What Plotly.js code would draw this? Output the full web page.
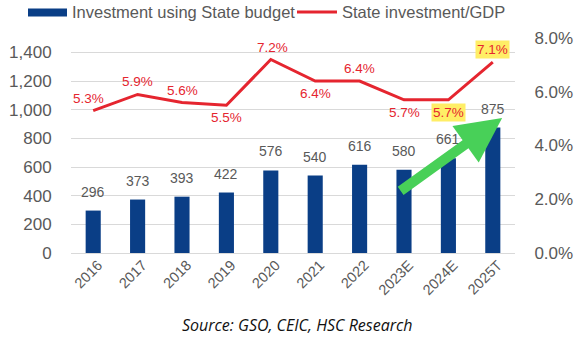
<!DOCTYPE html>
<html>
<head>
<meta charset="utf-8">
<script src="https://cdn.plot.ly/plotly-3.0.1.min.js"></script>
<style>html,body{margin:0;padding:0;background:#fff}#chart{width:588px;height:339px}</style>
</head>
<body>
<div id="chart"></div>
<script>
const categories = ['2016','2017','2018','2019','2020','2021','2022','2023E','2024E','2025T'];
const investment = [296, 373, 393, 422, 576, 540, 616, 580, 661, 875];
const gdpShare = [5.3, 5.9, 5.6, 5.5, 7.2, 6.4, 6.4, 5.7, 5.7, 7.1];
const leftTicks = [0, 200, 400, 600, 800, 1000, 1200, 1400];
const rightTicks = [0, 2, 4, 6, 8];

const navy = '#0A3E86';
const red = '#E5252F';
const grey = '#595959';

// label placement (style only)
const lineLabelBelow = [false,false,false,true,false,true,false,true,true,false];
const lineLabelHighlight = [false,false,false,false,false,false,false,false,true,true];
const lineLabelXShift = [-5,0,0,0,2,0,0,0,0,0];

const traces = [
  {type:'bar', x:categories, y:investment, marker:{color:navy}, width:0.34, showlegend:false, hoverinfo:'skip'},
  {type:'scatter', mode:'lines', x:categories, y:gdpShare, yaxis:'y2', line:{color:red, width:3}, showlegend:false, hoverinfo:'skip'}
];

const annotations = [];
categories.forEach((c,i)=>{
  annotations.push({x:i, y:investment[i], xref:'x', yref:'y', text:String(investment[i]), showarrow:false,
    yanchor:'bottom', yshift:9, font:{family:'Liberation Sans, Arial', size:14, color:grey}});
  const below = lineLabelBelow[i];
  annotations.push({x:i, y:gdpShare[i], xref:'x', yref:'y2', text:gdpShare[i].toFixed(1)+'%', showarrow:false,
    yanchor: below ? 'top':'bottom', yshift: below ? -3 : 3, xshift:lineLabelXShift[i],
    bgcolor: lineLabelHighlight[i] ? '#FFEE66' : 'rgba(0,0,0,0)', borderpad:1,
    font:{family:'Liberation Sans, Arial', size:13.5, color:red}});
});
// green trend arrow
annotations.push({xref:'paper', yref:'paper', axref:'pixel', ayref:'pixel', x:0.971, y:0.628, ax:-103, ay:74,
  showarrow:true, arrowhead:2, arrowsize:0.9, arrowwidth:10, arrowcolor:'#48D058', text:''});
// legend
annotations.push({xref:'paper', yref:'paper', x:(70-71)/444, y:(253-12)/215, xanchor:'left', yanchor:'middle', showarrow:false,
  text:'Investment using State budget', font:{family:'Liberation Sans, Arial', size:16.5, color:grey}});
annotations.push({xref:'paper', yref:'paper', x:(340-71)/444, y:(253-12)/215, xanchor:'left', yanchor:'middle', showarrow:false,
  text:'State investment/GDP', font:{family:'Liberation Sans, Arial', size:16.5, color:grey}});
// source
annotations.push({xref:'paper', yref:'paper', x:(297-71)/444, y:(253-325)/215, xanchor:'center', yanchor:'middle', showarrow:false,
  text:'<i>Source: GSO, CEIC, HSC Research</i>', font:{family:'Open Sans, Liberation Sans', size:16, color:'#111'}});

const shapes = [
  {type:'rect', xref:'paper', yref:'paper', x0:(28-71)/444, x1:(67-71)/444, y0:(253-16.5)/215, y1:(253-8.5)/215, fillcolor:'#0A3E86', line:{width:0}},
  {type:'line', xref:'paper', yref:'paper', x0:(297-71)/444, x1:(337-71)/444, y0:(253-12)/215, y1:(253-12)/215, line:{color:red, width:3}}
];

const layout = {
  width:588, height:339,
  margin:{l:71, r:73, t:38, b:86},
  paper_bgcolor:'#fff', plot_bgcolor:'#fff',
  showlegend:false,
  font:{family:'Liberation Sans, Arial', color:grey},
  xaxis:{type:'category', range:[-0.5, 9.5], tickangle:-45, tickfont:{size:14.5, color:grey}, ticklabelshift:5,
    showgrid:false, showline:false, ticks:'', automargin:false},
  yaxis:{range:[0,1500], tickvals:leftTicks, ticktext:leftTicks.map(v=>v.toLocaleString('en-US')), tickfont:{size:17, color:grey},
    gridcolor:'#D9D9D9', gridwidth:1, zeroline:true, zerolinecolor:'#D9D9D9', showline:false,
    ticks:'outside', ticklen:15, tickcolor:'rgba(0,0,0,0)', automargin:false},
  yaxis2:{overlaying:'y', side:'right', range:[0,8], tickvals:rightTicks, ticktext:rightTicks.map(v=>v.toFixed(1)+'%'),
    tickfont:{size:17, color:grey}, showgrid:false, zeroline:false, showline:false,
    ticks:'outside', ticklen:15, tickcolor:'rgba(0,0,0,0)', automargin:false},
  annotations:annotations,
  shapes:shapes
};

Plotly.newPlot('chart', traces, layout, {staticPlot:true, displayModeBar:false});
</script>
</body>
</html>
